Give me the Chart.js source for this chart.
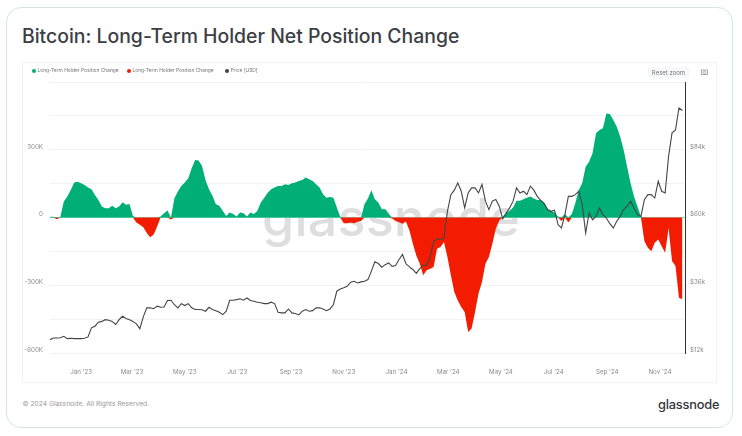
<!DOCTYPE html>
<html>
<head>
<meta charset="utf-8">
<script src="https://cdn.jsdelivr.net/npm/chart.js@4"></script>
<style>
    html, body { margin: 0; padding: 0; background: #fff; width: 742px; height: 436px; overflow: hidden; font-family: Inter, sans-serif; }
    .card { position: absolute; left: 5.5px; top: 7px; width: 725px; height: 419px; border: 1.5px solid #d9e3e7; border-radius: 15px; }
    .title { position: absolute; left: 22px; top: 24px; font-size: 19.4px; font-weight: 500; color: #3c4045; white-space: nowrap; }
    .panel { position: absolute; left: 22px; top: 62px; width: 695px; height: 321px; border: 1px solid #f0f1f2; box-sizing: border-box; }
    .mark { position: absolute; left: 262px; top: 186px; font-size: 52px; font-weight: 500; color: #dedede; letter-spacing: 0.2px; }
    canvas { position: absolute; left: 23px; top: 63px; }
    .legend { position: absolute; left: 32px; top: 67px; font-size: 4.9px; color: #777; white-space: nowrap; }
    .legend span { position: absolute; top: 0; }
    .legend i { display: inline-block; width: 4px; height: 4px; border-radius: 50%; margin-right: 1.5px; vertical-align: -0.5px; }
    .reset { position: absolute; left: 648px; top: 67px; width: 41px; height: 11px; background: #f6f8f9; border-radius: 2px; font-size: 6px; line-height: 11px; text-align: center; color: #777; }
    .camera { position: absolute; left: 701px; top: 69px; }
    .footer { position: absolute; left: 22.5px; top: 400px; font-size: 6.7px; color: #9a9a9a; }
    .brand { position: absolute; left: 658px; top: 397px; font-size: 12.8px; font-weight: 500; color: #33373b; letter-spacing: -0.2px; }
</style>
</head>
<body>
<div class="card"></div>
<div class="title">Bitcoin: Long-Term Holder Net Position Change</div>
<div class="panel"></div>
<div class="mark">glassnode</div>
<canvas id="lthChart" width="694" height="320"></canvas>
<div class="legend" id="legend"></div>
<div class="reset">Reset zoom</div>
<svg class="camera" width="7" height="6" viewBox="0 0 7 6"><rect x="0.4" y="1" width="6.2" height="4.6" fill="none" stroke="#888" stroke-width="0.7"/><circle cx="3.5" cy="3.3" r="1.2" fill="none" stroke="#888" stroke-width="0.7"/></svg>
<div class="footer">© 2024 Glassnode. All Rights Reserved.</div>
<div class="brand">glassnode</div>
<script>
// one reading every 4 days from late Nov '22
const firstDay = -36; // days relative to 1 Jan '23
const stepDays = 4;

// thousands of BTC
const netChange = [
    3, 3, -8, 3, 71, 93, 122, 155, 158, 152, 144, 133, 125, 100, 78, 49, 41, 41, 52, 41,
    49, 68, 56, 60, 7, -22, -32, -43, -69, -87, -75, -40, 4, 19, 31, -9, 85, 115, 140, 155,
    174, 218, 255, 252, 228, 166, 125, 96, 59, 52, 29, 7, 22, 15, 4, 22, 19, 4, 22, 15,
    29, 66, 88, 110, 125, 133, 140, 140, 147, 144, 152, 155, 162, 166, 177, 169, 162, 147, 133, 103,
    88, 91, 88, 44, 3, -25, -25, -22, -25, -19, -15, 59, 84, 121, 81, 66, 37, 37, 15, -4,
    -16, -21, -28, -18, -57, -116, -168, -205, -256, -234, -227, -219, -138, -131, -109, -175, -256, -330, -367, -396,
    -418, -507, -492, -418, -337, -286, -205, -175, -116, -50, -13, 3, 22, 29, 44, 74, 74, 81, 88, 93,
    84, 78, 78, 66, 37, 29, 22, 4, -15, 15, -22, 15, 63, 122, 152, 225, 247, 284, 373, 387,
    395, 461, 458, 432, 402, 358, 299, 225, 152, 93, 49, 4, -105, -134, -149, -112, -97, -127, -156, -46,
    -193, -215, -355, -362
];

// USD thousands
const priceUsd = [
    16.7, 17.3, 17.3, 17.4, 17.9, 17.1, 17.2, 17.1, 17.1, 17.1, 17.2, 17.7, 20.9, 21.5, 22.9, 23.2, 23.8, 23.6, 23.2, 22.1,
    23.8, 25.0, 24.2, 23.8, 23.2, 22.3, 20.6, 24.8, 28.0, 28.0, 27.7, 28.6, 28.2, 28.3, 30.6, 30.7, 29.1, 28.0, 29.5, 28.8,
    29.5, 28.0, 27.4, 27.4, 27.3, 26.8, 28.2, 27.4, 27.0, 26.4, 25.6, 26.8, 30.7, 30.7, 30.9, 31.2, 30.7, 31.5, 30.6, 30.3,
    30.0, 29.8, 29.5, 29.5, 30.0, 29.5, 26.4, 26.2, 26.2, 27.6, 26.2, 26.0, 25.5, 26.8, 27.4, 26.8, 27.0, 28.0, 28.0, 27.6,
    27.0, 27.6, 29.1, 33.9, 34.7, 35.1, 35.6, 37.1, 37.4, 36.8, 37.2, 37.4, 38.0, 41.0, 44.3, 43.7, 42.4, 43.3, 43.9, 42.7,
    43.0, 45.1, 46.9, 43.6, 42.5, 41.6, 40.2, 41.9, 43.1, 43.0, 46.0, 51.6, 52.4, 52.2, 52.8, 62.2, 68.1, 69.7, 72.3, 69.3,
    63.4, 68.7, 70.5, 70.5, 68.7, 71.7, 65.8, 62.8, 65.8, 66.4, 64.0, 59.5, 61.6, 63.4, 65.8, 70.5, 68.7, 69.3, 68.1, 71.1,
    69.7, 67.5, 66.1, 64.9, 62.8, 62.2, 62.6, 57.5, 56.3, 61.0, 67.5, 67.5, 68.1, 69.3, 64.6, 54.5, 61.6, 59.2, 60.4, 63.4,
    61.0, 59.8, 57.8, 56.3, 58.7, 60.4, 62.8, 64.0, 65.7, 63.4, 61.0, 60.4, 66.3, 68.1, 68.1, 66.9, 72.8, 69.3, 68.7, 81.7,
    90.0, 91.0, 98.8, 97.9
];

const tickDays = [0, 59, 120, 181, 243, 304, 365, 425, 486, 547, 609, 670];
const tickLabels = ["Jan '23", "Mar '23", "May '23", "Jul '23", "Sep '23", "Nov '23", "Jan '24", "Mar '24", "May '24", "Jul '24", "Sep '24", "Nov '24"];

const seriesNames = ['Long-Term Holder Position Change', 'Long-Term Holder Position Change', 'Price [USD]'];
const seriesColors = ['#00ae78', '#f41c00', '#444444'];
const legendLefts = [0, 95, 193];

const toPoints = (values) => values.map((y, i) => ({ x: firstDay + i * stepDays, y }));
const areaStyle = { pointRadius: 0, borderWidth: 0, fill: 'origin', order: 1, yAxisID: 'y' };

const legend = document.getElementById('legend');
seriesNames.forEach((name, i) => {
    const item = document.createElement('span');
    item.style.left = legendLefts[i] + 'px';
    item.innerHTML = '<i style="background:' + seriesColors[i] + '"></i>' + name;
    legend.appendChild(item);
});

const tickFont = { family: 'Inter', size: 6.2 };

new Chart(document.getElementById('lthChart').getContext('2d'), {
    type: 'line',
    data: {
        datasets: [
            { ...areaStyle, label: seriesNames[0], data: toPoints(netChange.map(v => Math.max(v, 0))), backgroundColor: seriesColors[0] },
            { ...areaStyle, label: seriesNames[1], data: toPoints(netChange.map(v => Math.min(v, 0))), backgroundColor: seriesColors[1] },
            { label: seriesNames[2], data: toPoints(priceUsd), borderColor: seriesColors[2], borderWidth: 1.1, pointRadius: 0, fill: false, order: 0, yAxisID: 'y1' }
        ]
    },
    options: {
        responsive: false,
        animation: false,
        layout: { padding: { top: 19 } },
        plugins: { legend: { display: false }, tooltip: { enabled: false } },
        scales: {
            x: {
                type: 'linear',
                min: -36,
                max: 699,
                grid: { display: false },
                border: { display: false },
                afterBuildTicks: (scale) => { scale.ticks = tickDays.map(value => ({ value })); },
                afterFit: (scale) => { scale.height = 30; },
                ticks: {
                    autoSkip: false,
                    maxRotation: 0,
                    padding: 7,
                    color: '#8a8a8a',
                    font: tickFont,
                    callback: (value, index) => tickLabels[index]
                }
            },
            y: {
                position: 'left',
                min: -600,
                max: 600,
                afterFit: (scale) => { scale.width = 27; },
                grid: {
                    drawTicks: false,
                    color: (ctx) => ctx.tick.value === 0 ? '#8edcc0' : '#f1f2f3'
                },
                border: { display: false },
                ticks: {
                    stepSize: 150,
                    padding: 7,
                    labelOffset: -3,
                    color: '#8a8a8a',
                    font: tickFont,
                    callback: (value) => value % 300 !== 0 || value === 600 ? '' : (value === 0 ? '0' : value + 'K')
                }
            },
            y1: {
                position: 'right',
                min: 12,
                max: 108,
                afterFit: (scale) => { scale.width = 32; },
                grid: { display: false, drawTicks: false },
                border: { display: true, color: '#333', width: 1 },
                ticks: {
                    stepSize: 24,
                    padding: 5,
                    labelOffset: -3,
                    color: '#8a8a8a',
                    font: tickFont,
                    callback: (value) => value === 108 ? '' : '$' + value + 'k'
                }
            }
        }
    }
});
</script>
</body>
</html>
